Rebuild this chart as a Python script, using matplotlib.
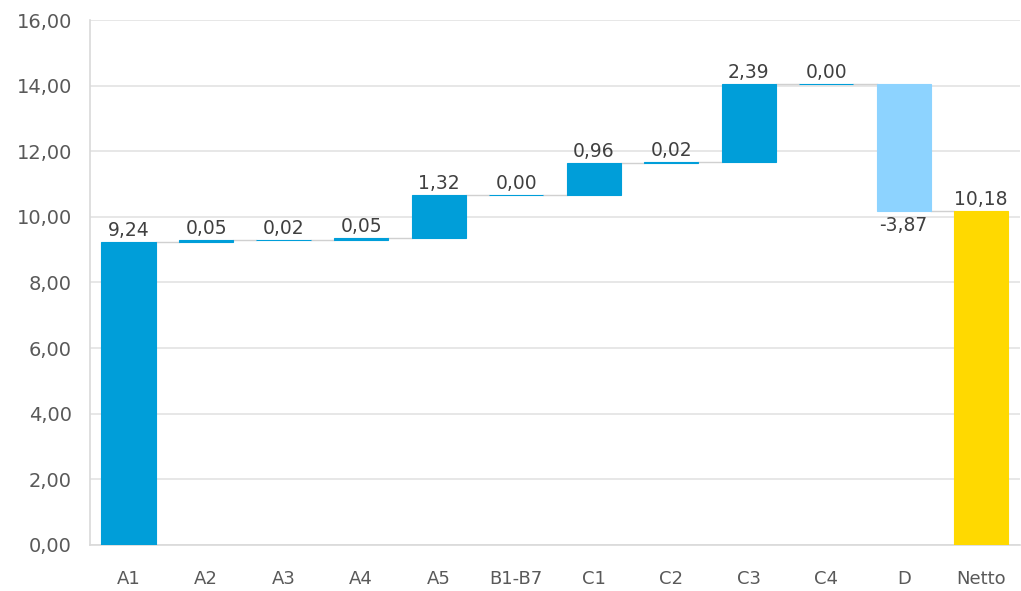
import matplotlib
matplotlib.use("Agg")
import matplotlib.pyplot as plt
from matplotlib.ticker import FuncFormatter

# Dane wykresu kaskadowego
kategorie = ["A1", "A2", "A3", "A4", "A5", "B1-B7", "C1", "C2", "C3", "C4", "D", "Netto"]
wartosci = [9.24, 0.05, 0.02, 0.05, 1.32, 0.00, 0.96, 0.02, 2.39, 0.00, -3.87, 10.18]
czy_suma = [False] * 11 + [True]

kol_plus = "#009ED9"
kol_minus = "#8DD3FF"
kol_suma = "#FFD900"

def fmt(v):
    return f"{v:.2f}".replace(".", ",")

fig = plt.figure(figsize=(10.21, 5.91), dpi=100)
ax = fig.add_axes([0.088, 0.078, 0.911, 0.888])

szer = 0.7
poziom = 0.0
konce = []
for i, (v, suma) in enumerate(zip(wartosci, czy_suma)):
    if suma:
        dol, gora, kol = 0, v, kol_suma
    elif v >= 0:
        dol, gora, kol = poziom, poziom + v, kol_plus
    else:
        dol, gora, kol = poziom + v, poziom, kol_minus
    ax.bar(i, gora - dol, bottom=dol, width=szer, color=kol, edgecolor=kol,
           linewidth=0.8, zorder=3)
    if v >= 0:
        ax.text(i, gora + 0.06, fmt(v), ha="center", va="bottom", fontsize=13.5,
                color="#404040", zorder=4)
    else:
        ax.text(i, dol - 0.15, fmt(v), ha="center", va="top", fontsize=13.5,
                color="#404040", zorder=4)
    poziom = v if suma else poziom + v
    konce.append(poziom)

# linie łączące słupki
for i in range(len(wartosci) - 1):
    ax.plot([i + szer / 2, i + 1 - szer / 2], [konce[i], konce[i]],
            color="#D0D0D0", linewidth=1, zorder=2)

ax.set_ylim(0, 16)
ax.set_yticks(range(0, 17, 2))
ax.yaxis.set_major_formatter(FuncFormatter(lambda y, _: fmt(y)))
ax.set_xlim(-0.5, len(kategorie) - 0.5)
ax.set_xticks(range(len(kategorie)))
ax.set_xticklabels(kategorie)

ax.grid(axis="y", color="#E3E3E3", linewidth=1.2, zorder=0)
ax.set_axisbelow(True)
for s in ["top", "right"]:
    ax.spines[s].set_visible(False)
for s in ["left", "bottom"]:
    ax.spines[s].set_color("#D9D9D9")
    ax.spines[s].set_linewidth(1.2)
ax.tick_params(axis="both", length=0, colors="#595959", labelsize=13)
ax.tick_params(axis="y", labelsize=14)
ax.tick_params(axis="x", pad=18)
ax.tick_params(axis="y", pad=13)

fig.savefig("out.png", dpi=100)
